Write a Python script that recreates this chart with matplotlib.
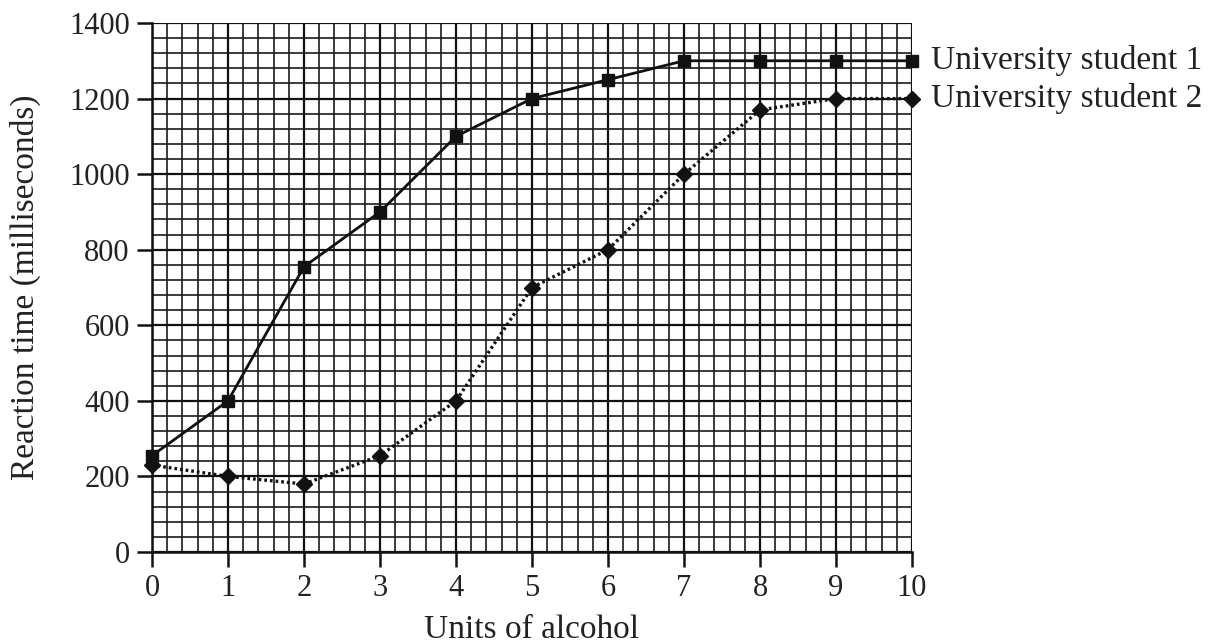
import numpy as np
import matplotlib.pyplot as plt

# dane
units = [0, 1, 2, 3, 4, 5, 6, 7, 8, 9, 10]
student1 = [255, 400, 755, 900, 1100, 1200, 1250, 1300, 1300, 1300, 1300]
student2 = [230, 200, 180, 255, 400, 700, 800, 1000, 1170, 1200, 1200]
labels = ['University student 1', 'University student 2']

plt.rcParams['font.family'] = ['Liberation Serif', 'DejaVu Serif']

fig = plt.figure(figsize=(12.24, 6.44), dpi=100)
ax = fig.add_axes([152/1224, 92/644, 760/1224, 529/644])

# siatka milimetrowa
ax.set_xticks(np.arange(0, 11, 1))
ax.set_xticks(np.arange(0, 10.01, 0.2), minor=True)
ax.set_yticks(np.arange(0, 1401, 200))
ax.set_yticks(np.arange(0, 1401, 40), minor=True)
ax.grid(which='major', color='#111111', linewidth=1.6)
ax.grid(which='minor', color='#1a1a1a', linewidth=1.2)
ax.set_axisbelow(True)

ax.plot(units, student1, color='#111111', linewidth=2.0, marker='s', markersize=8,
        zorder=3, clip_on=False)
ax.plot(units, student2, color='#111111', linewidth=2.4, linestyle=(0, (0.8, 0.9)),
        marker='D', markersize=8.5, zorder=3, clip_on=False)

for lab, ys in zip(labels, [student1, student2]):
    ax.annotate(lab, xy=(units[-1], ys[-1]), xytext=(14, 0), textcoords='offset points',
                va='center', ha='left', fontsize=24, color='#222222', annotation_clip=False)

ax.set_xlim(0, 10)
ax.set_ylim(0, 1400)
for s in ['top', 'right']:
    ax.spines[s].set_visible(False)
for s in ['left', 'bottom']:
    ax.spines[s].set_linewidth(1.8)
    ax.spines[s].set_color('#111111')

ax.tick_params(which='major', direction='out', length=11, width=1.8, colors='#111111',
               labelsize=22, labelcolor='#222222', pad=5)
ax.tick_params(which='minor', length=0)

ax.set_xlabel('Units of alcohol', fontsize=24, color='#222222', labelpad=8)
ax.set_ylabel('Reaction time (milliseconds)', fontsize=24, color='#222222', labelpad=20)

plt.savefig('out.png', dpi=100)
